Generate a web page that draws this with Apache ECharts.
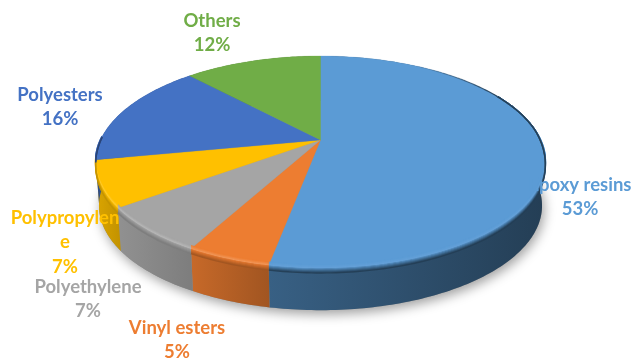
<!DOCTYPE html>
<html>
<head>
<meta charset="utf-8">
<style>html,body{margin:0;padding:0;background:#fff}#chart{width:633px;height:362px}</style>
<script src="https://cdn.jsdelivr.net/npm/echarts@6/dist/echarts.min.js"></script>
</head>
<body>
<div id="chart"></div>
<script>
// Composition of the resin market, in percent
var materials = ['Epoxy resins', 'Vinyl esters', 'Polyethylene', 'Polypropylene', 'Polyesters', 'Others'];
var shares = [53, 5, 7, 7, 16, 12];
var labelTexts = ['Epoxy resins', 'Vinyl esters', 'Polyethylene', 'Polypropylen\ne', 'Polyesters', 'Others'];

// Styling, one entry per material
var colors = ['#5B9BD5', '#ED7D31', '#A5A5A5', '#FFC000', '#4472C4', '#70AD47'];
var wallShade = [[0.62, 0.40], [0.84, 0.68], [0.88, 0.76], [0.86, 0.76], [0.7, 0.6], [0.7, 0.6]];
var labelCenters = [[580, 185], [177, 328], [88, 287], [65, 218], [60, 95], [212, 21]];

// Perspective disc: apex position, radii and foreshortening
var disc = { cx: 320.5, cy: 140, a: 220, b: 101.4, k: 0.2075 };
var wallDepth = { dy: 44, scaleX: 0.985, b: 100 };
var edgeFade = [28, 62];
var bevelRange = [62, 272];
var lineHeight = 24.5;

function shade(hex, f) {
  var n = parseInt(hex.slice(1), 16);
  var c = [n >> 16 & 255, n >> 8 & 255, n & 255].map(function (v) { return Math.round(v * f); });
  return 'rgb(' + c.join(',') + ')';
}
function mix(hexA, rgbB, t) {
  var n = parseInt(hexA.slice(1), 16);
  var a = [n >> 16 & 255, n >> 8 & 255, n & 255];
  return 'rgb(' + a.map(function (v, i) { return Math.round(v + (rgbB[i] - v) * t); }).join(',') + ')';
}
function rimPoint(deg, dy, scaleX, b) {
  var r = deg * Math.PI / 180;
  var X = Math.sin(r), Y = -Math.cos(r), d = 1 - disc.k * Y;
  return [disc.cx + disc.a * scaleX * X / d, disc.cy + dy + b * Y / d];
}
function topRim(deg) { return rimPoint(deg, 0, 1, disc.b); }
function bottomRim(deg) { return rimPoint(deg, wallDepth.dy, wallDepth.scaleX, wallDepth.b); }
// Rim line shifted down the edge; the shift dies away towards the back of the disc
function bevelRim(deg, off) {
  var Y = -Math.cos(deg * Math.PI / 180);
  var front = Math.min(1, Math.max(0, (Y + 0.1) / 0.5));
  return rimPoint(deg, off * front, 1, disc.b);
}
function arc(from, to, fn, off) {
  var pts = [], n = Math.max(2, Math.ceil(Math.abs(to - from)));
  for (var i = 0; i <= n; i++) pts.push(fn(from + (to - from) * i / n, off));
  return pts;
}
var total = shares.reduce(function (s, v) { return s + v; }, 0);
function wedgeAngles(index, value) {
  var before = 0;
  for (var i = 0; i < index; i++) before += shares[i];
  return [before / total * 360, (before + value) / total * 360];
}

function renderShadow() {
  return {
    type: 'polygon',
    shape: { points: arc(0, 360, bottomRim) },
    style: { fill: '#8f8f8f', shadowBlur: 12, shadowColor: 'rgba(0,0,0,0.38)', shadowOffsetX: 2, shadowOffsetY: 4 }
  };
}
function renderWall(params, api) {
  var i = params.dataIndex, ang = wedgeAngles(i, api.value(0));
  var pts = arc(ang[0], ang[1], topRim).concat(arc(ang[1], ang[0], bottomRim));
  return {
    type: 'polygon',
    shape: { points: pts },
    style: {
      fill: new echarts.graphic.LinearGradient(0, 0, 1, 0, [
        { offset: 0, color: shade(colors[i], wallShade[i][0]) },
        { offset: 1, color: shade(colors[i], wallShade[i][1]) }
      ])
    }
  };
}
function renderTop(params, api) {
  var i = params.dataIndex, ang = wedgeAngles(i, api.value(0));
  return {
    type: 'polygon',
    shape: { points: [[disc.cx, disc.cy]].concat(arc(ang[0], ang[1], topRim)) },
    style: { fill: colors[i], stroke: colors[i], lineWidth: 0.3 }
  };
}
function renderBevel(params, api) {
  var i = params.dataIndex, ang = wedgeAngles(i, api.value(0));
  var children = [], wall = shade(colors[i], wallShade[i][1]);
  var wallRgb = wall.match(/\d+/g).map(Number);
  // Thin dark edge that fades in along the far right of the disc
  for (var d = edgeFade[0]; d < edgeFade[1]; d += 4) {
    var s = Math.max(ang[0], d), e = Math.min(ang[1], d + 4);
    if (e <= s) continue;
    children.push({
      type: 'polyline',
      shape: { points: arc(s, e, topRim) },
      style: { fill: null, stroke: wall, lineWidth: 1.2, opacity: (d - edgeFade[0]) / (edgeFade[1] - edgeFade[0]) }
    });
  }
  var from = Math.max(ang[0], bevelRange[0]), to = Math.min(ang[1], bevelRange[1]);
  if (to > from) {
    // Stacked strokes form the soft rounded edge between the face and the wall
    for (var off = -3; off <= 5; off++) {
      var t = (off + 3) / 8;
      var color = t < 0.4
        ? mix(colors[i], [255, 255, 255], 0.22 * t / 0.4 * (i === 0 ? 0.3 : 1))
        : mix(colors[i], wallRgb, (t - 0.4) / 0.6);
      children.push({
        type: 'polyline',
        shape: { points: arc(from, to, bevelRim, off) },
        style: { fill: null, stroke: color, lineWidth: 1.4, opacity: 0.9 }
      });
    }
  }
  return { type: 'group', children: children };
}
function renderLabel(params, api) {
  var i = params.dataIndex, c = labelCenters[i];
  var text = labelTexts[i] + '\n' + api.value(0) + '%';
  return {
    type: 'text',
    style: {
      x: c[0], y: c[1] - lineHeight / 2, text: text,
      fill: colors[i], font: 'bold 18.5px Lato', align: 'center',
      verticalAlign: 'top', lineHeight: lineHeight
    }
  };
}

var chart = echarts.init(document.getElementById('chart'), null, { renderer: 'canvas' });
function layer(name, render, data) {
  return {
    type: 'custom', name: name, coordinateSystem: 'none', renderItem: render,
    data: data, silent: true, animation: false
  };
}
var rows = shares.map(function (v, i) { return { name: materials[i], value: [v] }; });
chart.setOption({
  backgroundColor: '#fff',
  animation: false,
  series: [
    layer('shadow', renderShadow, [[total]]),
    layer('walls', renderWall, rows),
    layer('faces', renderTop, rows),
    layer('bevel', renderBevel, rows),
    layer('labels', renderLabel, rows)
  ]
});
</script>
</body>
</html>
